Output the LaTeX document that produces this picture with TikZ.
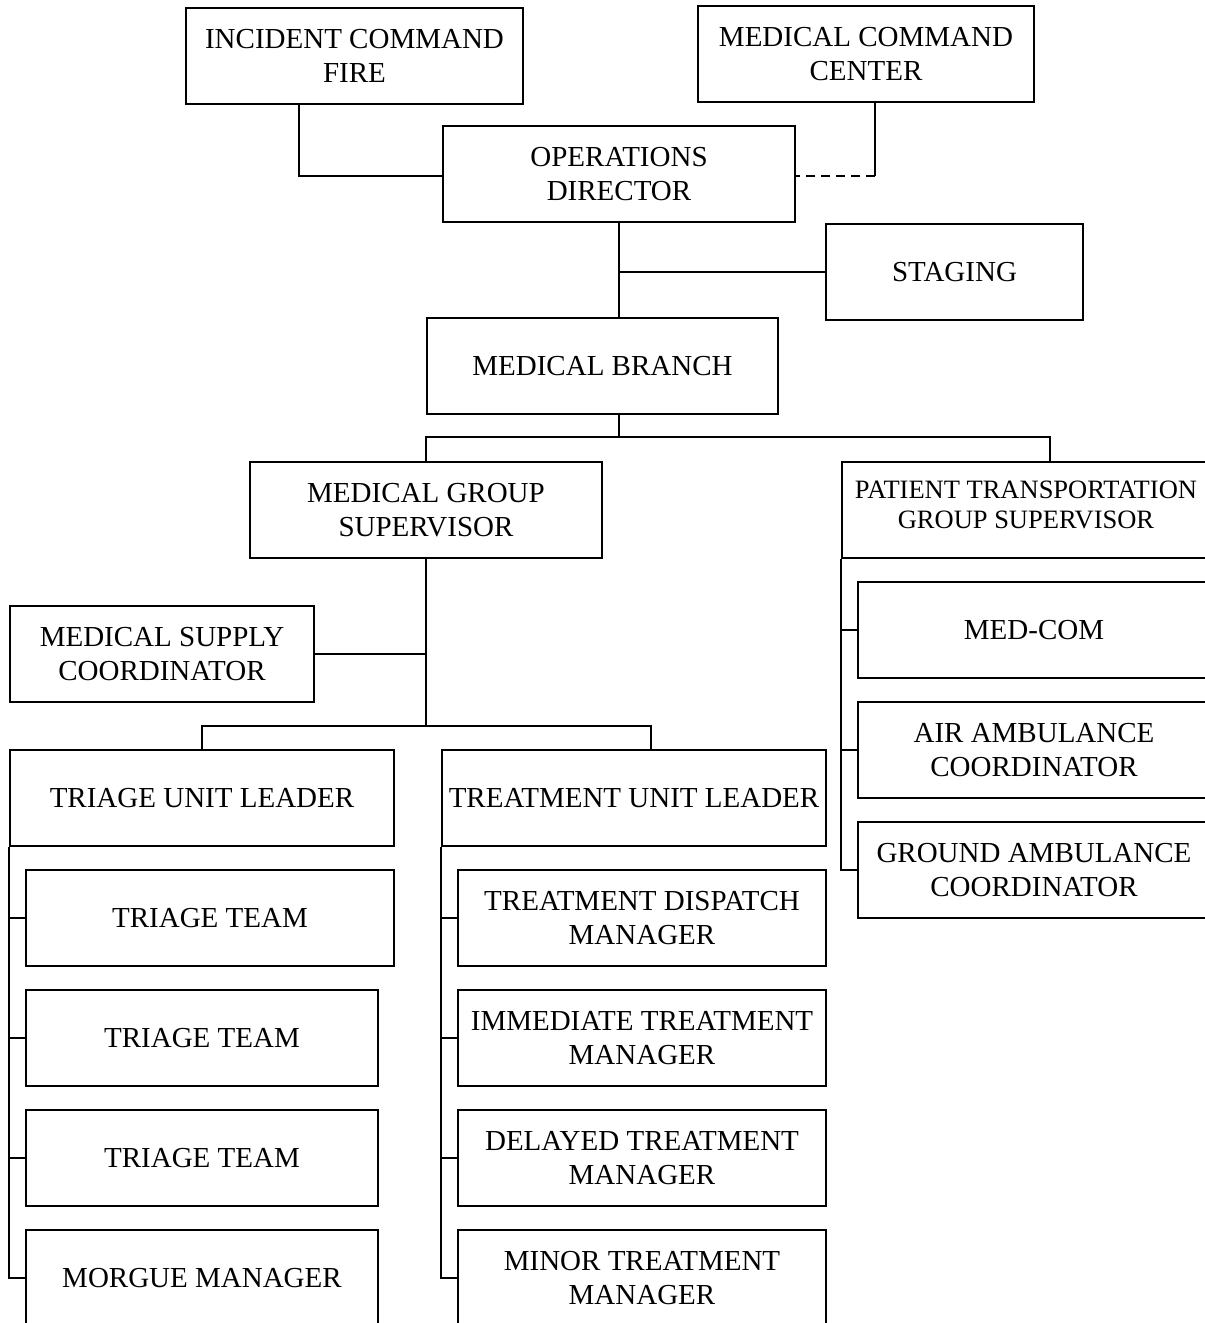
\documentclass[tikz,border=0pt]{standalone}
\usepackage{fontspec}
\setmainfont{Liberation Serif}
\begin{document}
\begin{tikzpicture}[x=1pt,y=-1pt,
  box/.style={draw, line width=2pt, inner sep=0pt, align=center,
    font=\fontsize{29}{34}\selectfont, minimum height=96pt},
  conn/.style={line width=2pt},
  dashconn/.style={line width=2pt, dash pattern=on 9pt off 6pt}]
\useasboundingbox (0,0) rectangle (1205,1323);
\clip (0,0) rectangle (1205,1323);
\fill[white] (0,0) rectangle (1205,1323);

% nodes
\node[box, minimum width=337pt] (icf) at (354.5,56) {INCIDENT COMMAND\\FIRE};
\node[box, minimum width=336pt] (mcc) at (866,54) {MEDICAL COMMAND\\CENTER};
\node[box, minimum width=352pt] (ops) at (619,174) {OPERATIONS\\DIRECTOR};
\node[box, minimum width=257pt] (stg) at (954.5,272) {STAGING};
\node[box, minimum width=351pt] (mb) at (602.5,366) {MEDICAL BRANCH};
\node[box, minimum width=352pt] (mgs) at (426,510) {MEDICAL GROUP\\SUPERVISOR};
\node[box, minimum width=368pt, font=\fontsize{26.5}{30}\selectfont] (ptgs) at (1026,510) {PATIENT TRANSPORTATION\\GROUP SUPERVISOR\\[-20pt]};
\node[box, minimum width=304pt] (msc) at (162,654) {MEDICAL SUPPLY\\COORDINATOR};
\node[box, minimum width=384pt] (tul) at (202,798) {TRIAGE UNIT LEADER};
\node[box, minimum width=384pt] (trul) at (634,798) {TREATMENT UNIT LEADER};
\node[box, minimum width=368pt] (tt1) at (210,918) {TRIAGE TEAM};
\node[box, minimum width=352pt] (tt2) at (202,1038) {TRIAGE TEAM};
\node[box, minimum width=352pt] (tt3) at (202,1158) {TRIAGE TEAM};
\node[box, minimum width=352pt] (mor) at (202,1278) {MORGUE MANAGER};
\node[box, minimum width=368pt] (tdm) at (642,918) {TREATMENT DISPATCH\\MANAGER};
\node[box, minimum width=368pt] (itm) at (642,1038) {IMMEDIATE TREATMENT\\MANAGER};
\node[box, minimum width=368pt] (dtm) at (642,1158) {DELAYED TREATMENT\\MANAGER};
\node[box, minimum width=368pt] (mtm) at (642,1278) {MINOR TREATMENT\\MANAGER};
\node[box, minimum width=352pt] (medcom) at (1034,630) {MED-COM};
\node[box, minimum width=352pt] (aac) at (1034,750) {AIR AMBULANCE\\COORDINATOR};
\node[box, minimum width=352pt] (gac) at (1034,870) {GROUND AMBULANCE\\COORDINATOR};

% junction coordinates
\coordinate (j1) at (299,176);
\coordinate (j2) at (875,176);
\coordinate (bus1) at (619,437);
\coordinate (d1) at (1050,437);
\coordinate (bus2) at (426,726);
\coordinate (d2) at (202,726);
\coordinate (d3) at (651,726);

% connectors
\draw[conn] (icf.south -| j1) |- (ops.west |- j1);
\draw[conn] (mcc.south -| j2) -- (j2);
\draw[dashconn] (j2) -- (ops.east |- j2);
\draw[conn] (ops.south) -- (ops.south |- mb.north);
\draw[conn] (ops.south |- stg.west) -- (stg.west);
\draw[conn] (ops.south |- mb.south) -- (bus1);
\draw[conn] (mgs.north) |- (bus1) -| (d1) -- (d1 |- ptgs.north);
\draw[conn] (mgs.south) -- (bus2);
\draw[conn] (msc.east) -- (msc.east -| mgs.south);
\draw[conn] (d2 |- tul.north) -- (d2) -- (d3) -- (d3 |- trul.north);

% triage side
\draw[conn] (tul.south west) |- (mor.west);
\draw[conn] (tt1.west) -- (tt1.west -| tul.west);
\draw[conn] (tt2.west) -- (tt2.west -| tul.west);
\draw[conn] (tt3.west) -- (tt3.west -| tul.west);

% treatment side
\draw[conn] (trul.south west) |- (mtm.west);
\draw[conn] (tdm.west) -- (tdm.west -| trul.west);
\draw[conn] (itm.west) -- (itm.west -| trul.west);
\draw[conn] (dtm.west) -- (dtm.west -| trul.west);

% transportation side
\draw[conn] (ptgs.south west) |- (gac.west);
\draw[conn] (medcom.west) -- (medcom.west -| ptgs.west);
\draw[conn] (aac.west) -- (aac.west -| ptgs.west);
\end{tikzpicture}
\end{document}
